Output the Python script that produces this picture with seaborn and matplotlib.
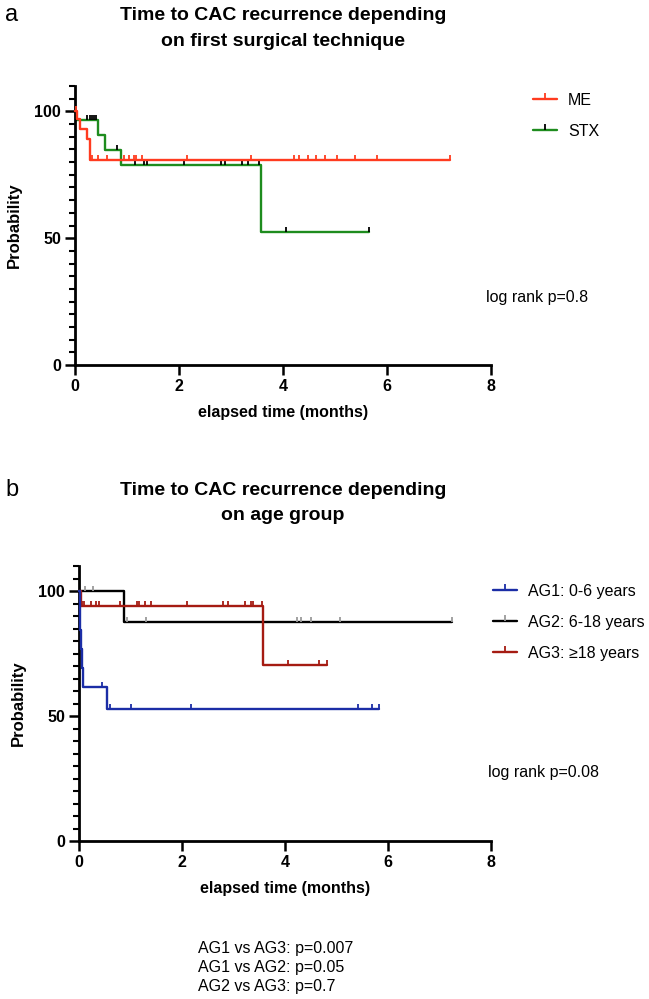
import numpy as np
import pandas as pd
import seaborn as sns
import matplotlib.pyplot as plt
from matplotlib.lines import Line2D
from matplotlib.ticker import MultipleLocator

sns.set_theme(style='ticks')
plt.rcParams['font.family'] = ['Liberation Sans', 'DejaVu Sans']
for k in ['text.color', 'axes.labelcolor', 'xtick.color', 'ytick.color', 'axes.edgecolor']:
    plt.rcParams[k] = 'black'

# Kaplan-Meier data (time in months, survival in %)
# panel a: first surgical technique
me_event_t = [0.04, 0.10, 0.24, 0.29]
me_event_s = [96.8, 93.2, 89.0, 81.0]
me_cens_t = [0.01, 0.32, 0.45, 0.62, 0.95, 1.03, 1.14, 1.17, 1.29, 2.16, 3.38,
             4.21, 4.31, 4.48, 4.63, 4.81, 5.04, 5.39, 5.80, 7.22]

stx_event_t = [0.02, 0.44, 0.57, 0.88, 3.57]
stx_event_s = [96.4, 90.6, 84.8, 78.7, 52.4]
stx_cens_t = [0.24, 0.28, 0.32, 0.36, 0.40, 0.80, 1.15, 1.32, 1.39, 2.10, 2.80,
              2.88, 3.22, 3.33, 3.54, 4.06, 5.66]

# panel b: age group
ag1_event_t = [0.01, 0.02, 0.03, 0.05, 0.07, 0.54]
ag1_event_s = [92.3, 84.6, 76.9, 69.2, 61.5, 52.7]
ag1_cens_t = [0.44, 0.60, 1.01, 2.17, 5.41, 5.68, 5.83]

ag2_event_t = [0.87]
ag2_event_s = [87.5]
ag2_cens_t = [0.12, 0.28, 0.93, 1.31, 4.23, 4.32, 4.50, 5.07, 7.25]

ag3_event_t = [0.04, 3.57]
ag3_event_s = [94.1, 70.4]
ag3_cens_t = [0.05, 0.10, 0.23, 0.33, 0.39, 0.80, 1.12, 1.17, 1.28, 1.39, 2.09,
              2.80, 2.89, 3.22, 3.34, 3.38, 3.55, 4.05, 4.66, 4.82]

W, H = 649, 999


def surv_at(t, ev_t, ev_s):
    s = 100.0
    for et, es in zip(ev_t, ev_s):
        if et <= t:
            s = es
    return s


def km_curve(ax, ev_t, ev_s, cens_t, line_color, tick_color, z):
    end = max(cens_t + ev_t)
    df = pd.DataFrame({'t': [0] + ev_t + [end], 's': [100.0] + ev_s + [ev_s[-1]]})
    sns.lineplot(data=df, x='t', y='s', drawstyle='steps-post', color=line_color,
                 lw=1.7, estimator=None, sort=False, ax=ax, zorder=z, clip_on=False)
    cs = [surv_at(c, ev_t, ev_s) for c in cens_t]
    ax.plot(cens_t, cs, ls='none', marker=2, ms=3.8, mew=1.3, color=tick_color,
            zorder=z + 0.5, clip_on=False)


def style_axes(ax):
    ax.set_xlim(0, 8)
    ax.set_ylim(0, 110)
    ax.set_xticks([0, 2, 4, 6, 8])
    ax.set_yticks([0, 50, 100])
    ax.yaxis.set_minor_locator(MultipleLocator(5))
    sns.despine(ax=ax)
    for sp in ['left', 'bottom']:
        ax.spines[sp].set_linewidth(2)
    ax.tick_params(which='major', length=7, width=1.8, labelsize=11.5, pad=3)
    ax.tick_params(which='minor', axis='y', length=4.5, width=1.5)
    for lab in ax.get_xticklabels() + ax.get_yticklabels():
        lab.set_fontweight('bold')
    ax.set_xlabel('elapsed time (months)', fontweight='bold', fontsize=11.5, labelpad=8)
    ax.set_ylabel('Probability', fontweight='bold', fontsize=12, labelpad=9)


def fx(px):
    return px / W


def fy(py):
    return 1 - py / H


fig = plt.figure(figsize=(W / 100, H / 100), dpi=100)

# ---- panel a ----
ax1 = fig.add_axes([fx(75), fy(365), 416 / W, 279 / H])
km_curve(ax1, me_event_t, me_event_s, me_cens_t, '#FF3B1F', '#FF3B1F', 3)
km_curve(ax1, stx_event_t, stx_event_s, stx_cens_t, '#1E8C1E', 'black', 2)
style_axes(ax1)

h_a = [Line2D([], [], color='#FF3B1F', lw=1.7, marker=2, ms=4, mew=1.3, mec='#FF3B1F'),
       Line2D([], [], color='#1E8C1E', lw=1.7, marker=2, ms=4, mew=1.3, mec='black')]
fig.legend(h_a, ['ME', 'STX'], loc='upper left', bbox_to_anchor=(fx(533), fy(93)),
           frameon=False, fontsize=11.5, handlelength=1.5, handletextpad=0.7,
           labelspacing=1.0, borderpad=0, borderaxespad=0)

fig.text(fx(486), fy(298), 'log rank p=0.8', fontsize=11.5, va='center')
fig.text(fx(5), fy(15), 'a', fontsize=17, va='center')
fig.text(fx(283), fy(15), 'Time to CAC recurrence depending', fontsize=14,
         fontweight='bold', ha='center', va='center')
fig.text(fx(283), fy(41), 'on first surgical technique', fontsize=14,
         fontweight='bold', ha='center', va='center')

# ---- panel b ----
ax2 = fig.add_axes([fx(79), fy(841), 412 / W, 275 / H])
km_curve(ax2, ag2_event_t, ag2_event_s, ag2_cens_t, 'black', '#9A9A9A', 2)
km_curve(ax2, ag3_event_t, ag3_event_s, ag3_cens_t, '#A51B12', '#A51B12', 3)
km_curve(ax2, ag1_event_t, ag1_event_s, ag1_cens_t, '#1B2DA6', '#1B2DA6', 4)
style_axes(ax2)

h_b = [Line2D([], [], color='#1B2DA6', lw=1.7, marker=2, ms=4, mew=1.3, mec='#1B2DA6'),
       Line2D([], [], color='black', lw=1.7, marker=2, ms=4, mew=1.3, mec='#9A9A9A'),
       Line2D([], [], color='#A51B12', lw=1.7, marker=2, ms=4, mew=1.3, mec='#A51B12')]
fig.legend(h_b, ['AG1: 0-6 years', 'AG2: 6-18 years', 'AG3: \u226518 years'],
           loc='upper left', bbox_to_anchor=(fx(493), fy(584)), frameon=False,
           fontsize=11.5, handlelength=1.5, handletextpad=0.7, labelspacing=1.0,
           borderpad=0, borderaxespad=0)

fig.text(fx(488), fy(773), 'log rank p=0.08', fontsize=11.5, va='center')
fig.text(fx(5), fy(490), 'b', fontsize=17, va='center')
fig.text(fx(283), fy(490), 'Time to CAC recurrence depending', fontsize=14,
         fontweight='bold', ha='center', va='center')
fig.text(fx(283), fy(516), 'on age group', fontsize=14,
         fontweight='bold', ha='center', va='center')

stats = ['AG1 vs AG3: p=0.007', 'AG1 vs AG2: p=0.05', 'AG2 vs AG3: p=0.7']
for i, s in enumerate(stats):
    fig.text(fx(198), fy(948 + 19.5 * i), s, fontsize=11.5, va='center')

fig.savefig('out.png', dpi=100)
